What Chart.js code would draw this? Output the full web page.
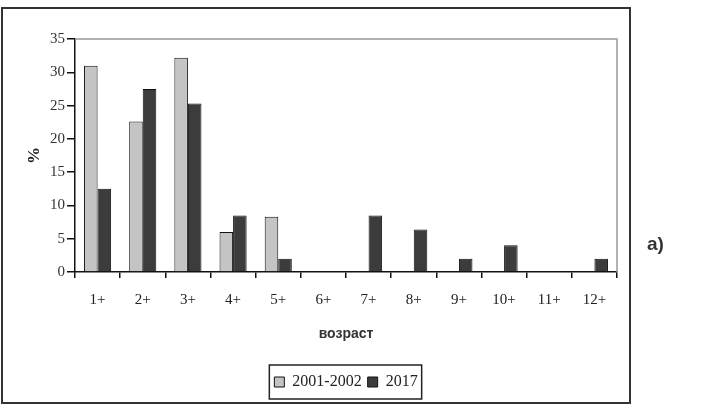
<!DOCTYPE html>
<html>
<head>
<meta charset="utf-8">
<script src="https://cdn.jsdelivr.net/npm/chart.js@4.4.1/dist/chart.umd.min.js"></script>
<style>
  html, body { margin: 0; padding: 0; background: #fff; }
  #wrap { position: relative; width: 720px; height: 408px; }
  #label { position: absolute; left: 647px; top: 233px; font: bold 19px "Liberation Sans", Arial, sans-serif; color: #333; }
</style>
</head>
<body>
<div id="wrap">
  <canvas id="chart" width="720" height="408"></canvas>
  <div id="label">a)</div>
</div>
<script>
// данные
const categories = ["1+", "2+", "3+", "4+", "5+", "6+", "7+", "8+", "9+", "10+", "11+", "12+"];
const series2001 = [31, 22.6, 32.2, 6, 8.3, 0, 0, 0, 0, 0, 0, 0];
const series2017 = [12.5, 27.5, 25.3, 8.5, 2, 0, 8.5, 6.4, 2, 4, 0, 2];
const yTicks = [0, 5, 10, 15, 20, 25, 30, 35];

const serif = '"Liberation Serif", "Times New Roman", serif';

// рамка, фон, верхняя и правая граница области графика, рамка легенды
const framePlugin = {
  id: "frame",
  beforeDraw(chart) {
    const ctx = chart.ctx;
    ctx.save();
    ctx.fillStyle = "#fff";
    ctx.fillRect(0, 0, chart.width, chart.height);
    ctx.restore();
  },
  afterDraw(chart) {
    const ctx = chart.ctx;
    const a = chart.chartArea;
    ctx.save();
    ctx.strokeStyle = "#999";
    ctx.lineWidth = 1.5;
    ctx.beginPath();
    ctx.moveTo(a.left, a.top);
    ctx.lineTo(a.right, a.top);
    ctx.lineTo(a.right, a.bottom);
    ctx.stroke();

    ctx.strokeStyle = "#333";
    ctx.lineWidth = 2;
    ctx.strokeRect(2, 8, 628, 395);

    const hb = chart.legend.legendHitBoxes;
    if (hb && hb.length) {
      const l = Math.min(...hb.map(h => h.left)) - 5;
      const r = Math.max(...hb.map(h => h.left + h.width)) + 4;
      const t = hb[0].top - 9;
      const b = hb[0].top + hb[0].height + 9;
      ctx.strokeStyle = "#222";
      ctx.lineWidth = 1.5;
      ctx.strokeRect(l, t, r - l, b - t);
    }
    ctx.restore();
  }
};

new Chart(document.getElementById("chart"), {
  type: "bar",
  data: {
    labels: categories,
    datasets: [
      {
        label: "2001-2002",
        data: series2001,
        backgroundColor: "#c4c4c4",
        borderColor: "#111",
        borderWidth: 1
      },
      {
        label: "2017",
        data: series2017,
        backgroundColor: "#3c3c3c",
        borderColor: "#111",
        borderWidth: 1
      }
    ]
  },
  options: {
    responsive: false,
    animation: false,
    layout: { padding: { left: 24, top: 39, right: 103, bottom: 8 } },
    datasets: { bar: { categoryPercentage: 0.6, barPercentage: 1 } },
    scales: {
      x: {
        grid: { offset: true, drawOnChartArea: false, tickLength: 6, color: "#111", lineWidth: 1.5 },
        border: { color: "#111", width: 1.5 },
        ticks: { font: { family: serif, size: 15 }, color: "#222", padding: 13 },
        title: { display: true, text: "возраст", font: { family: '"Liberation Sans", Arial, sans-serif', size: 14, weight: "bold" }, color: "#333", padding: { top: 0, bottom: 25 } },
        afterFit(scale) { scale.height = 96; }
      },
      y: {
        min: 0,
        max: 35,
        afterBuildTicks(scale) { scale.ticks = yTicks.map(v => ({ value: v })); },
        grid: { drawOnChartArea: false, tickLength: 8, color: "#111", lineWidth: 1.5 },
        border: { color: "#111", width: 1.5 },
        ticks: { font: { family: serif, size: 15 }, color: "#333", padding: 2 },
        title: { display: true, text: "%", font: { family: serif, size: 17, weight: "bold" }, color: "#222", padding: { top: 0, bottom: 4 } },
        afterFit(scale) { scale.width = 51; }
      }
    },
    plugins: {
      legend: {
        position: "bottom",
        fullSize: false,
        labels: { font: { family: serif, size: 16 }, color: "#222", boxWidth: 10, boxHeight: 10, padding: 6 }
      },
      tooltip: { enabled: false }
    }
  },
  plugins: [framePlugin]
});
</script>
</body>
</html>
